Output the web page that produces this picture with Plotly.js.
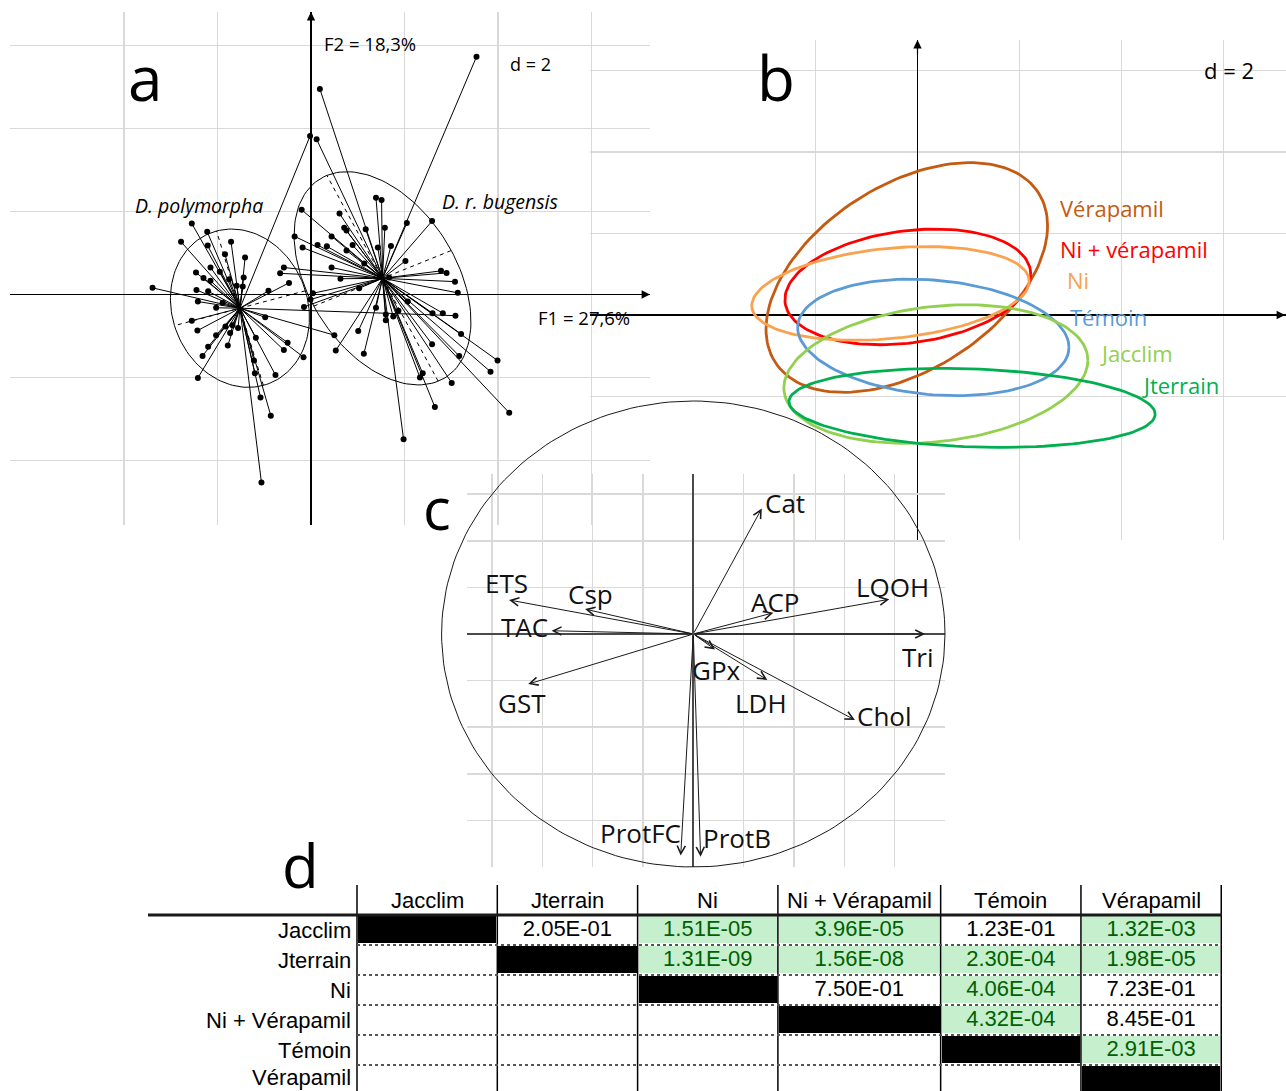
<!DOCTYPE html>
<html>
<head>
<meta charset="utf-8">
<script src="https://cdn.plot.ly/plotly-3.0.1.min.js"></script>
<style>html,body{margin:0;padding:0;background:#fff}#chart{width:1286px;height:1091px}</style>
</head>
<body>
<div id="chart"></div>
<script>
// ================= DATA =================
// Panel a : individual scores on F1 / F2, grouped by species
const polyName = 'D. polymorpha';
const polyCenter = [-1.52, -0.33];
const polyX = [-3.39,-2.55,-2.22,-2.78,-2.21,-1.71,-1.84,-1.41,-2.15,-2.46,-2.30,-2.15,-1.95,-1.75,-1.44,-1.46,-1.59,-2.45,-2.20,-2.42,-2.03,-1.89,-2.55,-2.43,-2.03,-2.20,-2.32,-2.42,-1.78,-1.83,-1.73,-1.68,-1.56,-1.18,-1.22,-1.20,-1.08,-0.86,-1.06,-0.76,-0.58,-0.50,-0.16,-0.98,-0.91,-0.47,-0.02,0.50,3.09];
const polyY = [0.16,1.71,1.51,1.27,1.18,1.27,0.97,0.89,0.65,0.53,0.40,0.33,0.55,0.37,0.41,0.19,0.21,0.11,0.08,-0.17,-0.32,-0.20,-0.63,-0.87,-0.98,-1.26,-1.48,-2.01,-1.23,-0.77,-0.93,-0.74,-0.81,-1.04,-1.59,-1.90,-2.48,-2.92,-4.53,-1.94,-1.34,-1.16,-1.51,-0.55,0.09,0.28,3.82,-0.98,-0.51];
const polyEllU = [-0.50, 1.86];
const polyEllV = [-1.40, -0.42];

const bugName = 'D. r. bugensis';
const bugCenter = [1.53, 0.39];
const bugX = [3.54,0.19,0.12,1.39,1.51,2.05,2.59,1.58,1.17,0.61,0.71,0.76,-0.20,-0.35,-0.18,0.14,0.34,0.44,0.89,0.76,1.43,1.71,2.02,0.44,0.63,1.14,1.03,1.67,2.78,2.90,3.08,3.14,2.82,2.60,2.07,1.87,1.76,1.60,1.60,1.39,1.01,1.13,0.53,3.21,2.59,3.17,3.99,3.84,4.24,3.01,2.65,2.33,2.39,1.98,0.04,-0.01,-0.15,-0.58,-0.66];
const bugY = [5.73,4.95,3.74,2.33,2.28,1.72,1.77,1.61,1.57,1.95,1.61,1.54,2.04,1.40,1.13,1.19,1.16,1.40,1.19,1.06,1.13,1.17,0.81,0.65,0.38,0.75,0.15,0.41,0.57,0.52,0.31,0.04,-0.45,-0.45,-0.17,-0.39,-0.53,-0.48,-0.62,-0.32,-0.88,-1.43,-1.35,-0.95,-1.20,-1.48,-1.59,-1.86,-2.85,-2.13,-2.71,-2.00,-1.90,-3.49,0.03,-0.12,-0.30,0.65,0.51];
const bugEllU = [-1.19, 2.48];
const bugEllV = [1.47, 0.67];

const axisF1 = 'F1 = 27,6%';
const axisF2 = 'F2 = 18,3%';
const scaleLabel = 'd = 2';

// Panel b : treatment ellipses (centre, half-extent along F1/F2, correlation)
const groups = ['Vérapamil', 'Ni + vérapamil', 'Ni', 'Témoin', 'Jacclim', 'Jterrain'];
const grpCx = [-0.21, -0.19, -0.53, 0.31, 0.36, 1.07];
const grpCy = [0.92, 0.69, 0.53, -0.55, -1.45, -2.28];
const grpSx = [2.76, 2.41, 2.72, 2.66, 2.98, 3.59];
const grpSy = [2.82, 1.42, 1.15, 1.43, 1.70, 0.97];
const grpR  = [0.45, 0.22, 0.26, -0.17, 0.20, -0.16];

// Panel c : correlation circle
const varNames = ['Cat','ETS','Csp','TAC','GST','ACP','LOOH','Tri','GPx','LDH','Chol','ProtFC','ProtB'];
const corF1 = [0.272,-0.732,-0.430,-0.563,-0.656,0.318,0.779,0.921,0.086,0.294,0.642,-0.050,0.029];
const corF2 = [0.539,0.146,0.107,0.014,-0.215,0.091,0.149,0.000,-0.066,-0.197,-0.369,-0.951,-0.956];

// Panel d : pairwise p-values
const treatments = ['Jacclim', 'Jterrain', 'Ni', 'Ni + Vérapamil', 'Témoin', 'Vérapamil'];
const pValues = [
  [null, 2.05e-1, 1.51e-5, 3.96e-5, 1.23e-1, 1.32e-3],
  [null, null,    1.31e-9, 1.56e-8, 2.30e-4, 1.98e-5],
  [null, null,    null,    7.50e-1, 4.06e-4, 7.23e-1],
  [null, null,    null,    null,    4.32e-4, 8.45e-1],
  [null, null,    null,    null,    null,    2.91e-3],
  [null, null,    null,    null,    null,    null]
];
const alpha = 0.05;

// ================= LAYOUT HELPERS =================
const W = 1286, H = 1091;
const FONT = 'Open Sans, Noto Sans, sans-serif';
const TFONT = 'Liberation Sans, Arial, sans-serif';
const PA = {x0:10, x1:650, y0:12, y1:525, ox:311, oy:294.5, kx:46.75, ky:41.5};
const PB = {x0:590, x1:1286, y0:40, y1:540, ox:917.5, oy:315, kx:51, ky:40.75};
const PCG = {x0:467, x1:945, y0:474, y1:867, ox:693.3, oy:634, kx:251.7, ky:233};
const PCC = {x0:430, x1:960, y0:385, y1:885, ox:693.3, oy:634, kx:251.7, ky:233};
const PD = {x0:148, x1:1222, y0:885, y1:1091, ox:357, kx:140.3, rowTop:930, rowH:30};

function dom(p){ return {x:[p.x0/W, p.x1/W], y:[1-p.y1/H, 1-p.y0/H]}; }
function rx(p){ return [(p.x0-p.ox)/p.kx, (p.x1-p.ox)/p.kx]; }
function ry(p){ return [(p.oy-p.y1)/p.ky, (p.oy-p.y0)/p.ky]; }
function PX(x){ return x/W; }
function PY(y){ return 1-y/H; }

const GRID = '#d9d9d9';
function gx(p, anchor, tv, zc, zw){
  return {domain:dom(p).x, range:rx(p), anchor:anchor, tickmode:'array', tickvals:tv,
    showticklabels:false, ticks:'', showline:false, showgrid:true, gridcolor:GRID, gridwidth:1.5,
    zeroline:true, zerolinecolor:zc, zerolinewidth:zw, fixedrange:true};
}
function gy(p, anchor, tv, zc, zw){
  return {domain:dom(p).y, range:ry(p), anchor:anchor, tickmode:'array', tickvals:tv,
    showticklabels:false, ticks:'', showline:false, showgrid:true, gridcolor:GRID, gridwidth:1.5,
    zeroline:true, zerolinecolor:zc, zerolinewidth:zw, fixedrange:true};
}

function ellipseUV(c, u, v){
  const xs=[], ys=[];
  for(let k=0;k<=140;k++){
    const t=2*Math.PI*k/140;
    xs.push(c[0]+u[0]*Math.cos(t)+v[0]*Math.sin(t));
    ys.push(c[1]+u[1]*Math.cos(t)+v[1]*Math.sin(t));
  }
  return [xs, ys];
}
function starLines(c, xs, ys){
  const lx=[], ly=[];
  xs.forEach((x,i)=>{ lx.push(c[0], x, null); ly.push(c[1], ys[i], null); });
  return [lx, ly];
}

// ================= TRACES =================
const traces = [];
// ---- panel a ----
[[polyCenter, polyX, polyY, polyEllU, polyEllV],[bugCenter, bugX, bugY, bugEllU, bugEllV]].forEach(g=>{
  const [c, xs, ys, u, v] = g;
  const s = starLines(c, xs, ys);
  traces.push({type:'scatter', mode:'lines', x:s[0], y:s[1], xaxis:'x', yaxis:'y',
    line:{color:'#000', width:1}, hoverinfo:'skip'});
  const e = ellipseUV(c, u, v);
  traces.push({type:'scatter', mode:'lines', x:e[0], y:e[1], xaxis:'x', yaxis:'y',
    line:{color:'#000', width:1}, hoverinfo:'skip'});
  traces.push({type:'scatter', mode:'lines',
    x:[c[0]-u[0], c[0]+u[0], null, c[0]-v[0], c[0]+v[0]],
    y:[c[1]-u[1], c[1]+u[1], null, c[1]-v[1], c[1]+v[1]], xaxis:'x', yaxis:'y',
    line:{color:'#000', width:1, dash:'4px,4px'}, hoverinfo:'skip'});
  traces.push({type:'scatter', mode:'markers', x:xs, y:ys, xaxis:'x', yaxis:'y',
    marker:{color:'#000', size:6}, hoverinfo:'skip'});
});

// ---- panel b ----
const grpColors = ['#C55A11', '#FF0000', '#F9A24F', '#5B9BD5', '#92D050', '#00B050'];
groups.forEach((g,i)=>{
  const u = [grpSx[i], grpSy[i]*grpR[i]];
  const v = [0, grpSy[i]*Math.sqrt(1-grpR[i]*grpR[i])];
  const e = ellipseUV([grpCx[i], grpCy[i]], u, v);
  traces.push({type:'scatter', mode:'lines', x:e[0], y:e[1], xaxis:'x2', yaxis:'y2',
    line:{color:grpColors[i], width:2.8}, name:g, hoverinfo:'skip'});
});

// ---- panel c ----
traces.push({type:'scatter', mode:'markers', x:[0], y:[0], xaxis:'x3', yaxis:'y3',
  marker:{size:1, opacity:0}, hoverinfo:'skip'});
(function(){
  const xs=[], ys=[];
  for(let k=0;k<=200;k++){ const t=2*Math.PI*k/200; xs.push(Math.cos(t)); ys.push(Math.sin(t)); }
  traces.push({type:'scatter', mode:'lines', x:xs, y:ys, xaxis:'x4', yaxis:'y4',
    line:{color:'#1a1a1a', width:1}, hoverinfo:'skip'});
})();

// ---- panel d ----
const colEdges = [0, 1, 2, 3, 4.16, 5.16, 6.16];
const colCenters = colEdges.slice(0,-1).map((e,i)=>(e+colEdges[i+1])/2);
function fmtP(p){
  return p.toExponential(2).toUpperCase().replace(/E([+-])(\d+)$/, (m,s,d)=>'E'+s+(d.length<2?'0'+d:d));
}
const zCodes = pValues.map((row,i)=>row.map((p,j)=> i===j ? 3 : (p===null ? null : (p < alpha ? 2 : 1))));
traces.push({type:'heatmap', x:colEdges, y:treatments.map((t,i)=>i), z:zCodes, xaxis:'x5', yaxis:'y5',
  colorscale:[[0,'#ffffff'],[0.5,'#C6EFCE'],[1,'#000000']], zmin:1, zmax:3, showscale:false,
  xgap:2, ygap:3, hoverinfo:'skip'});
(function(){
  const tx=[], ty=[], tt=[], tc=[];
  pValues.forEach((row,i)=>row.forEach((p,j)=>{
    if(p!==null && j>i){ tx.push(colCenters[j]); ty.push(i); tt.push(fmtP(p)); tc.push(p<alpha?'#006100':'#000000'); }
  }));
  traces.push({type:'scatter', mode:'text', x:tx, y:ty, text:tt, xaxis:'x5', yaxis:'y5',
    textposition:'middle center', textfont:{family:TFONT, size:22, color:tc}, hoverinfo:'skip'});
})();

// ================= ANNOTATIONS =================
const ann = [];
function txt(text, xpx, ypx, size, anchor, color, extra){
  ann.push(Object.assign({text:text, xref:'paper', yref:'paper', x:PX(xpx), y:PY(ypx),
    xanchor:anchor||'center', yanchor:'middle', showarrow:false,
    font:{family:FONT, size:size, color:color||'#000'}}, extra||{}));
}
function axArrow(xpx, ypx, dx, dy){
  ann.push({text:'', xref:'paper', yref:'paper', x:PX(xpx), y:PY(ypx), ax:dx, ay:dy,
    showarrow:true, arrowhead:2, arrowsize:1.4, arrowwidth:1.2, arrowcolor:'#000', standoff:0});
}
// panel letters
txt('a', 145, 77, 62);
txt('b', 776, 77, 62);
txt('c', 437, 508, 58);
txt('d', 300, 865, 60);
// panel a texts
txt(axisF2, 322, 43, 18.5, 'left');
txt(scaleLabel, 530, 64, 18);
txt(axisF1, 536, 317, 18.5, 'left');
txt('<i>'+polyName+'</i>', 133, 205, 19.5, 'left');
txt('<i>'+bugName+'</i>', 440, 202, 19.5, 'left');
axArrow(650, PA.oy, -16, 0);
axArrow(PA.ox, 12, 0, 16);
// panel b texts
txt(scaleLabel, 1229, 70, 22);
axArrow(1286, PB.oy, -16, 0);
axArrow(PB.ox, 40, 0, 16);
const bLabelPos = [[2.75,2.63],[2.75,1.62],[2.89,0.86],[2.95,-0.05],[3.54,-0.93],[4.36,-1.72]];
groups.forEach((g,i)=>{
  ann.push({text:g, xref:'x2', yref:'y2', x:bLabelPos[i][0], y:bLabelPos[i][1], xanchor:'left', yanchor:'middle',
    showarrow:false, font:{family:FONT, size:22, color:grpColors[i]}});
});
// panel c arrows + labels
const cLabelPos = [[0.364,0.562],[-0.741,0.219],[-0.410,0.172],[-0.669,0.030],[-0.681,-0.296],[0.325,0.137],
  [0.792,0.203],[0.892,-0.097],[0.094,-0.155],[0.269,-0.295],[0.758,-0.352],[-0.208,-0.853],[0.172,-0.874]];
varNames.forEach((v,i)=>{
  ann.push({text:'', xref:'x4', yref:'y4', axref:'x4', ayref:'y4', x:corF1[i], y:corF2[i], ax:0, ay:0,
    showarrow:true, arrowhead:5, arrowsize:1.6, arrowwidth:1, arrowcolor:'#1a1a1a', standoff:0});
  ann.push({text:v, xref:'x4', yref:'y4', x:cLabelPos[i][0], y:cLabelPos[i][1], xanchor:'center', yanchor:'middle',
    showarrow:false, font:{family:FONT, size:26, color:'#111'}});
});
// panel d header + row labels
treatments.forEach((t,j)=>{
  ann.push({text:t, xref:'x5', yref:'y5', x:colCenters[j], y:-1, xanchor:'center', yanchor:'middle',
    showarrow:false, font:{family:TFONT, size:22, color:'#000'}});
  ann.push({text:t, xref:'x5', yref:'y5', x:-0.025, y:j, xanchor:'right', yanchor:'middle', yshift:(j===treatments.length-1?3:0),
    showarrow:false, font:{family:TFONT, size:22, color:'#000'}});
});

// ================= SHAPES (table rules) =================
const dRangeX = [(PD.x0-PD.ox)/PD.kx, (PD.x1-PD.ox)/PD.kx];
const dRangeY = [(PD.y1-PD.rowTop)/PD.rowH, (PD.y0-PD.rowTop)/PD.rowH];
const shapes = [];
colEdges.forEach(e=>shapes.push({type:'line', xref:'x5', yref:'y5', x0:e, x1:e, y0:-1.5, y1:5.5,
  line:{color:'#000', width:1.5}}));
for(let r=0;r<treatments.length-1;r++){
  shapes.push({type:'line', xref:'x5', yref:'y5', x0:0, x1:colEdges[colEdges.length-1], y0:r+0.5, y1:r+0.5,
    line:{color:'#555', width:2, dash:'dot'}});
}
shapes.push({type:'line', xref:'x5', yref:'y5', x0:dRangeX[0], x1:dRangeX[1], y0:-0.5, y1:-0.5,
  line:{color:'#1a1a1a', width:3}});

// ================= LAYOUT =================
const tvA = [-4,-2,0,2,4,6];
const tvB = [-2,0,2,4,6];
const tvCx = [-0.8,-0.6,-0.4,-0.2,0,0.2,0.4,0.6,0.8];
const tvCy = [-0.8,-0.6,-0.4,-0.2,0,0.2,0.4,0.6];
const layout = {
  width:W, height:H, margin:{l:0,r:0,t:0,b:0}, showlegend:false,
  paper_bgcolor:'#ffffff', plot_bgcolor:'rgba(0,0,0,0)',
  font:{family:FONT, color:'#000'},
  xaxis: gx(PA,'y',tvA,'#000',1.2),  yaxis: gy(PA,'x',tvA,'#000',1.2),
  xaxis2: gx(PB,'y2',tvB,'#000',1.2), yaxis2: gy(PB,'x2',tvB,'#000',1.2),
  xaxis3: gx(PCG,'y3',tvCx,'#4a4a4a',2), yaxis3: gy(PCG,'x3',tvCy,'#4a4a4a',2),
  xaxis4: {domain:dom(PCC).x, range:rx(PCC), anchor:'y4', visible:false, fixedrange:true},
  yaxis4: {domain:dom(PCC).y, range:ry(PCC), anchor:'x4', visible:false, fixedrange:true},
  xaxis5: {domain:[PD.x0/W, PD.x1/W], range:dRangeX, anchor:'y5', visible:false, fixedrange:true},
  yaxis5: {domain:[1-PD.y1/H, 1-PD.y0/H], range:dRangeY, anchor:'x5', visible:false, fixedrange:true},
  annotations: ann, shapes: shapes
};
Plotly.newPlot('chart', traces, layout, {staticPlot:true, displayModeBar:false});
</script>
</body>
</html>
